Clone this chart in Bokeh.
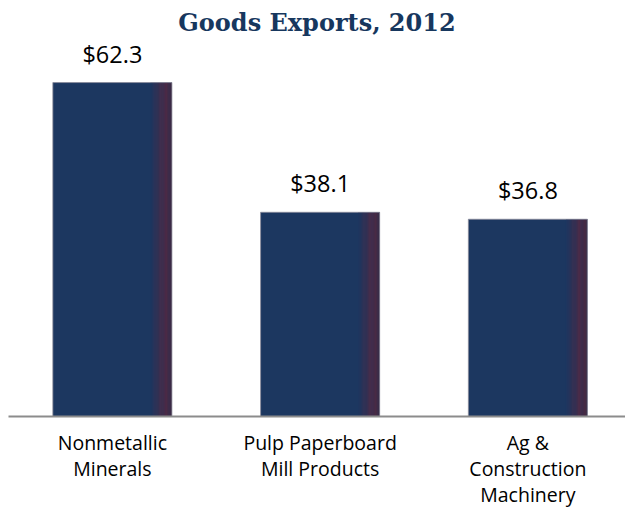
from bokeh.plotting import figure
from bokeh.models import Range1d, FixedTicker, ColumnDataSource
from bokeh.core.properties import value
from bokeh.embed import file_html
from bokeh.resources import INLINE

# ---- data ----
categories = ["Nonmetallic\nMinerals", "Pulp Paperboard\nMill Products", "Ag &\nConstruction\nMachinery"]
values = [62.3, 38.1, 36.8]
value_labels = ["$62.3", "$38.1", "$36.8"]
title_text = "Goods Exports, 2012"

# ---- style ----
BAR_W = 0.573
PX_PER_UNIT = 5.36
FRAME_W = 617
FRAME_H = 378
BAR_COLOR = (28, 55, 96)
idx = list(range(len(values)))

p = figure(
    frame_width=FRAME_W, frame_height=FRAME_H,
    x_range=Range1d(-0.5, -0.5 + FRAME_W / 207.75),
    y_range=Range1d(0, FRAME_H / PX_PER_UNIT),
    output_backend="svg", toolbar_location=None,
    y_axis_location=None, min_border=0,
    min_border_left=8, min_border_top=38,
    title=title_text,
)
p.title.align = "center"
p.title.offset = 5
p.title.text_font = "DejaVu Serif"
p.title.text_font_style = "bold"
p.title.text_font_size = "24px"
p.title.text_color = "#17375e"
p.title.standoff = 4

p.xgrid.visible = False
p.ygrid.visible = False
p.outline_line_color = None
p.background_fill_color = "white"
p.border_fill_color = "white"

# main bars
src = ColumnDataSource(dict(x=idx, top=values, label=value_labels))
p.vbar(x="x", top="top", width=BAR_W, source=src,
       fill_color="#%02x%02x%02x" % BAR_COLOR, line_color=None)

# right-edge shading of each bar (built from the bar geometry)
stops = [(0.82, BAR_COLOR), (0.94, (78, 42, 70)), (1.0, (64, 42, 66))]
N = 18
sx, sw, st, sc = [], [], [], []
for i, v in zip(idx, values):
    left = i - BAR_W / 2
    f0 = stops[0][0]
    step = (1.0 - f0) / N
    for k in range(N):
        f = f0 + (k + 0.5) * step
        for (fa, ca), (fb, cb) in zip(stops[:-1], stops[1:]):
            if fa <= f <= fb:
                t = (f - fa) / (fb - fa)
                c = tuple(int(round(a + (b - a) * t)) for a, b in zip(ca, cb))
                break
        sx.append(left + f * BAR_W)
        sw.append(step * BAR_W * 1.05)
        st.append(v)
        sc.append("#%02x%02x%02x" % c)
p.vbar(x=sx, top=st, width=sw, fill_color=sc, line_color=None)

# thin outline
p.vbar(x="x", top="top", width=BAR_W, source=src,
       fill_alpha=0, line_color="#8a8a9a", line_alpha=0.8, line_width=1)

# value labels
p.text(x="x", y="top", text="label", source=src,
       text_align="center", text_baseline="alphabetic", y_offset=-29,
       text_font=value("Open Sans"), text_font_size="23.5px", text_color="black")

# category axis
ax = p.xaxis[0]
ax.ticker = FixedTicker(ticks=idx)
ax.major_label_overrides = {i: c for i, c in zip(idx, categories)}
ax.major_label_text_font = "Open Sans"
ax.major_label_text_font_size = "19.5px"
ax.major_label_text_color = "black"
ax.major_label_text_line_height = 0.98
ax.major_label_standoff = 6
ax.major_tick_line_color = None
ax.minor_tick_line_color = None
ax.axis_line_color = "#8c8c8c"
ax.axis_line_width = 2

open("out.html", "w").write(file_html(p, INLINE))
